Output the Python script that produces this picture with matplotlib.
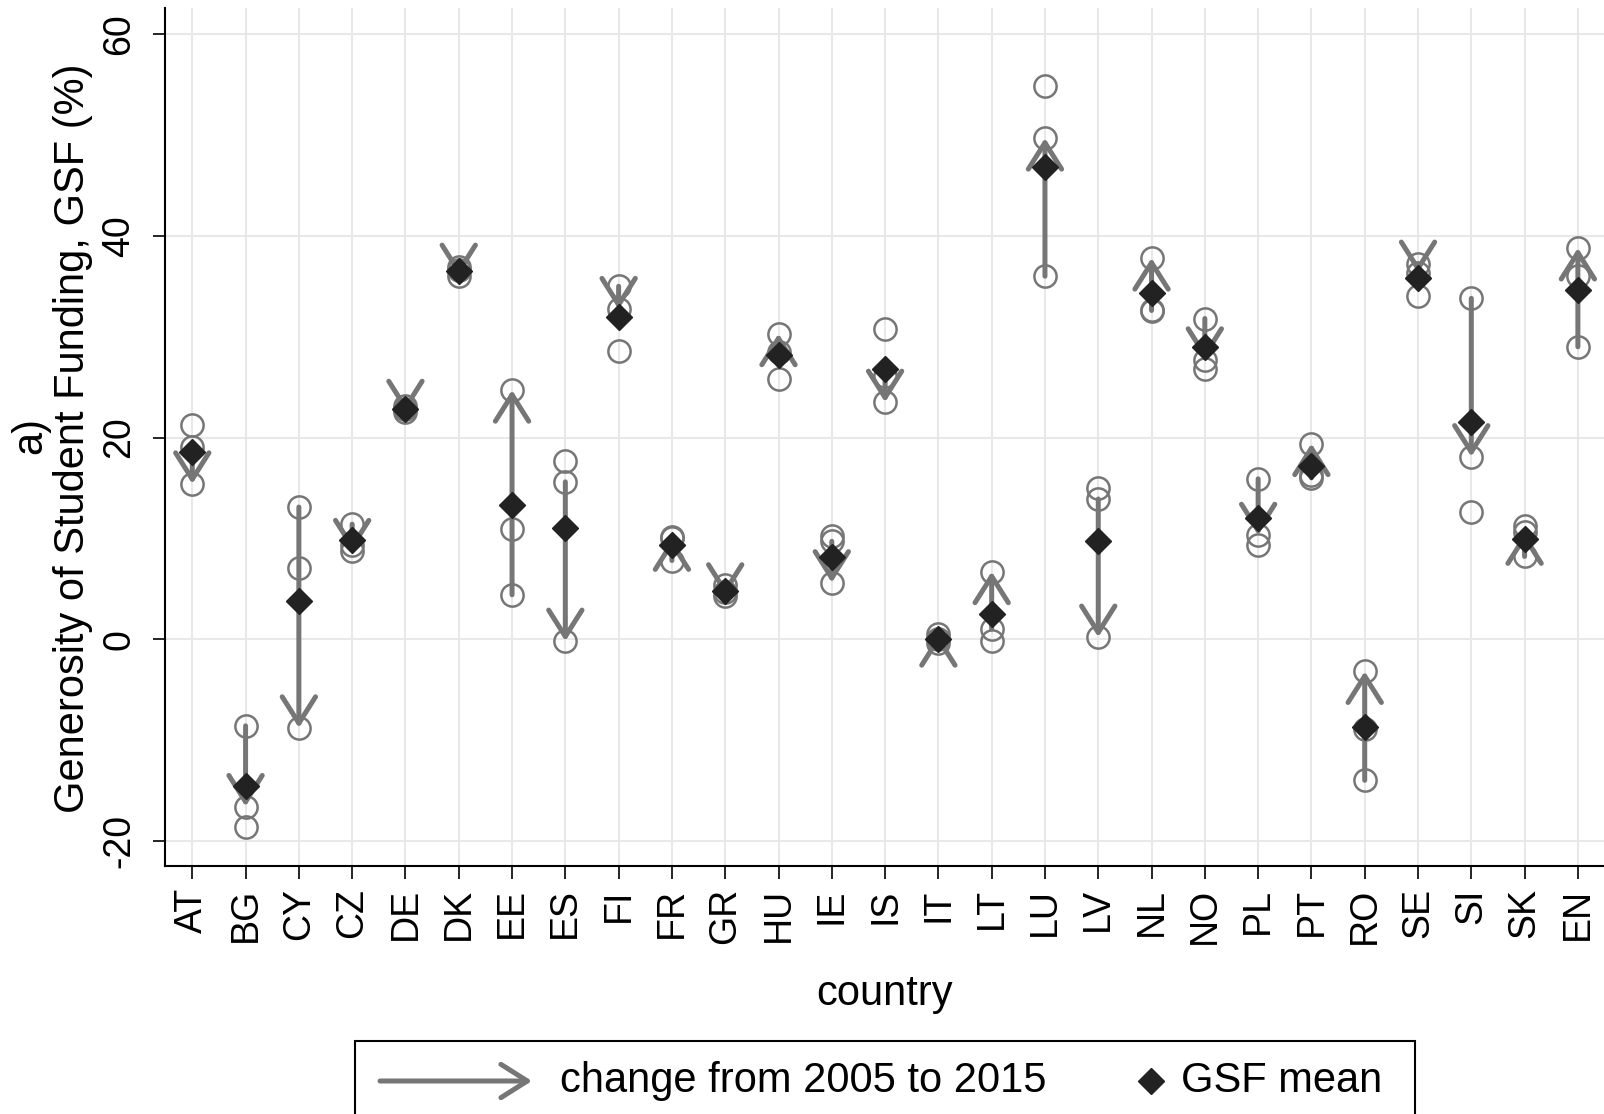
import numpy as np
import matplotlib.pyplot as plt
from matplotlib.patches import Rectangle
from matplotlib.lines import Line2D

plt.rcParams['font.family'] = ['Liberation Sans', 'DejaVu Sans']

# GSF values (three survey waves + mean)
countries = ["AT", "BG", "CY", "CZ", "DE", "DK", "EE", "ES", "FI", "FR", "GR", "HU", "IE", "IS",
             "IT", "LT", "LU", "LV", "NL", "NO", "PL", "PT", "RO", "SE", "SI", "SK", "EN"]
gsf_2005 = [19.1, -8.6, 13.1, 11.4, 23.1, 36.9, 4.4, 15.6, 35.0, 7.8, 5.4, 28.5, 9.7, 26.1,
            -0.4, 1.0, 36.0, 13.9, 32.6, 31.8, 15.9, 16.0, -14.0, 37.2, 33.8, 8.2, 29.0]
gsf_2015 = [15.4, -16.6, -8.8, 8.7, 22.5, 36.0, 24.7, -0.2, 32.7, 10.0, 4.3, 30.3, 5.6, 23.5,
            0.5, 6.7, 49.7, 0.2, 37.8, 27.7, 10.3, 19.4, -3.2, 36.3, 18.1, 10.6, 38.8]
gsf_mid = [21.2, -18.6, 7.1, 9.3, 22.8, 36.6, 10.9, 17.7, 28.6, 10.1, 4.7, 25.8, 10.2, 30.8,
           0.0, -0.2, 54.9, 14.95, 32.5, 26.8, 9.3, 16.3, -8.9, 34.0, 12.6, 11.2, 36.0]
gsf_mean = [18.6, -14.6, 3.8, 9.8, 22.8, 36.5, 13.3, 11.0, 32.0, 9.3, 4.8, 28.2, 8.1, 26.8,
            0.0, 2.5, 46.8, 9.7, 34.3, 29.0, 12.0, 17.2, -8.7, 35.8, 21.5, 9.9, 34.6]
yticks = [-20, 0, 20, 40, 60]

W, H = 1604, 1114
gray = "#767676"
dark = "#222222"
arrow_style = "->,head_length=1.9,head_width=1.2"

fig = plt.figure(figsize=(W / 100, H / 100), dpi=100)
ax = fig.add_axes([165 / W, 1 - 866 / H, 1 - 165 / W, (866 - 8) / H])

x = np.arange(len(countries))

for vals in (gsf_2005, gsf_mid, gsf_2015):
    ax.plot(x, vals, "o", mfc="none", mec=gray, ms=16, mew=1.8, zorder=2)

for i, (a, b) in enumerate(zip(gsf_2005, gsf_2015)):
    ax.annotate("", xy=(i, b), xytext=(i, a),
                arrowprops=dict(arrowstyle=arrow_style, color=gray, lw=3.6,
                                shrinkA=0, shrinkB=0, mutation_scale=10),
                zorder=3)

ax.plot(x, gsf_mean, "D", color=dark, ms=13.5, zorder=4)

ax.set_xlim(-0.512, 26.49)
ax.set_ylim(-22.5, 62.6)
ax.set_xticks(x)
ax.set_xticklabels(countries, rotation=90, fontsize=27)
ax.set_yticks(yticks)
ax.set_yticklabels([str(t) for t in yticks], rotation=90, va="center", fontsize=27)
ax.tick_params(length=9, width=1.2, pad=7)
ax.tick_params(axis="y", pad=11)
ax.grid(True, color="#e8e8e8", lw=1.5, zorder=0)
ax.set_axisbelow(True)
for s in ("top", "right"):
    ax.spines[s].set_visible(False)
for s in ("left", "bottom"):
    ax.spines[s].set_linewidth(1.5)

# axis titles
fig.text(30 / W, 1 - 435 / H, "a)", rotation=90, ha="center", va="center", fontsize=30)
fig.text(73 / W, 1 - 438 / H, "Generosity of Student Funding, GSF (%)", rotation=90,
         ha="center", va="center", fontsize=30)
fig.text(885 / W, 1 - 994 / H, "country", ha="center", va="center", fontsize=30)

# legend box (bottom edge runs off the figure, as in the original)
ly = 1 - 1081 / H
fig.add_artist(Rectangle((355 / W, -0.03), 1060 / W, 0.03 + (1 - 1041 / H),
                         transform=fig.transFigure, fill=False, ec="black", lw=1.5))
ax.annotate("", xy=(532 / W, ly), xytext=(380 / W, ly), xycoords="figure fraction",
            textcoords="figure fraction", annotation_clip=False,
            arrowprops=dict(arrowstyle=arrow_style, color=gray, lw=3.6,
                            shrinkA=0, shrinkB=0, mutation_scale=10))
fig.text(560 / W, ly, "change from 2005 to 2015", ha="left", va="center", fontsize=30)
fig.add_artist(Line2D([1151 / W], [ly], marker="D", color=dark, ms=13.5,
                      transform=fig.transFigure))
fig.text(1181 / W, ly, "GSF mean", ha="left", va="center", fontsize=30)

fig.savefig("out.png", dpi=100)
